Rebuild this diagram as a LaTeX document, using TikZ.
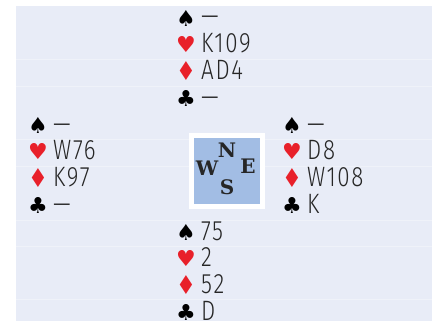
\documentclass[tikz,border=0pt]{standalone}
\usepackage{fontspec}
\setmainfont{Fira Sans}[UprightFont=* Light, LetterSpace=6, FakeStretch=0.8]
\newfontfamily\suitfont{DejaVu Sans}
\newfontfamily\compassfont{DejaVu Serif}
\usetikzlibrary{positioning}

\definecolor{tablebg}{HTML}{E8ECF7}
\definecolor{suitred}{HTML}{E8202A}
\definecolor{compassblue}{HTML}{A2BDE4}

\tikzset{
	suit/.style={font=\suitfont\fontsize{22}{22}\selectfont, inner sep=0pt},
	redsuit/.style={suit, text=suitred},
	cards/.style={font=\fontsize{28}{28}\selectfont, anchor=base west, inner sep=0pt, text=black!85},
	wind/.style={font=\compassfont\bfseries\fontsize{20}{20}\selectfont, inner sep=0pt, text=black!85},
}

% one hand: name, x of suit column, y of spade row, holdings
\newcommand{\bridgehand}[7]{%
	\node[suit] (#1-s) at (#2,#3) {♠};
	\node[redsuit] (#1-h) at ({#2},{#3+26.7}) {♥};
	\node[redsuit, font=\suitfont\fontsize{26}{26}\selectfont, xscale=0.85] (#1-d) at ({#2},{#3+53.4}) {♦};
	\node[suit] (#1-c) at ({#2},{#3+80.1}) {♣};
	\node[cards] (#1-st) at ({#2+15},{#3+8}) {#4};
	\node[cards] (#1-ht) at ({#2+15},{#3+34.7}) {#5};
	\node[cards] (#1-dt) at ({#2+15},{#3+61.4}) {#6};
	\node[cards] (#1-ct) at ({#2+15},{#3+88.1}) {#7};
}

\begin{document}
\begin{tikzpicture}[x=1pt, y=-1pt]
	\useasboundingbox (0,0) rectangle (436,321);
	
	% --- Table background ---
	\fill[tablebg] (16,6) rectangle (432,321);
	\foreach \y in {59,86,139,166,220,246,299}
		\draw[white!30!tablebg, line width=0.7pt] (16,\y) -- (432,\y);
	
	% --- Compass ---
	\node[draw=white, line width=5pt, fill=compassblue, minimum size=70.5pt, inner sep=0pt] (compass) at (227,171) {};
	\node[wind] (wind-n) at (227,150) {N};
	\node[wind] (wind-w) at (207,168) {W};
	\node[wind] (wind-e) at (248,166) {E};
	\node[wind] (wind-s) at (227,187) {S};
	
	% --- Hands ---
	\bridgehand{north}{186}{18}{—}{K109}{AD4}{—}
	\bridgehand{west}{38}{125}{—}{W76}{K97}{—}
	\bridgehand{east}{292}{125}{—}{D8}{W108}{K}
	\bridgehand{south}{186}{232}{75}{2}{52}{D}
	
\end{tikzpicture}
\end{document}
